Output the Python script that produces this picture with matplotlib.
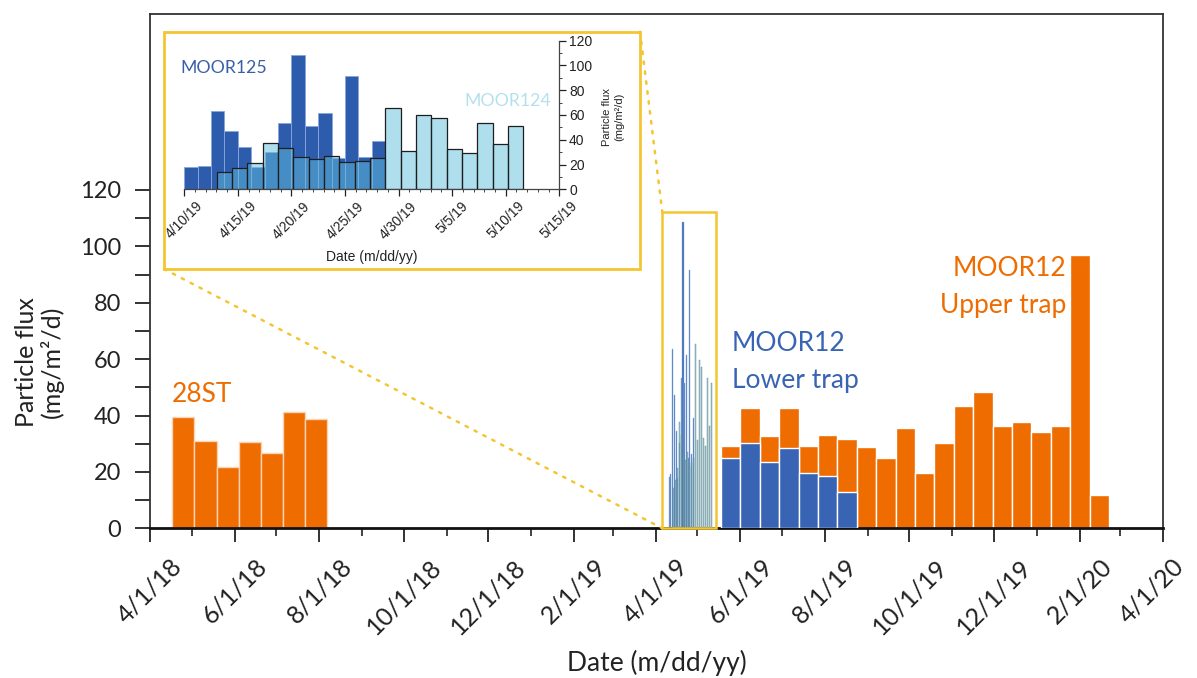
import numpy as np
import matplotlib
matplotlib.use("Agg")
import matplotlib.pyplot as plt
import matplotlib.dates as mdates
import matplotlib.transforms as mtransforms
from matplotlib.patches import Rectangle, ConnectionPatch
from matplotlib.ticker import FixedLocator, FuncFormatter

# 28ST trap, 16-day cups
st28_start = "2018-04-17"
st28_days = 16
st28_flux = [39.5, 30.8, 21.8, 30.5, 26.7, 41.3, 38.8]

# MOOR12, 14-day cups (upper and lower trap)
m12_start = "2019-05-18"
m12_days = 14
m12_upper = [29.1, 42.7, 32.7, 42.6, 29.3, 33.2, 31.7, 29.0, 24.9, 35.6,
             19.6, 30.4, 43.4, 48.5, 36.3, 37.8, 34.3, 36.2, 96.9, 11.8]
m12_lower = [24.9, 30.3, 23.5, 28.5, 19.5, 18.6, 13.0]

# high resolution traps (inset)
m125_start = "2019-04-10T00:00"
m125_days = 1.25
m125_flux = [18.3, 19.1, 63.5, 47.3, 34.4, 18.0, 30.4, 53.3, 108.7, 51.4,
             61.4, 25.0, 91.5, 26.4, 39.0]

m124_start = "2019-04-13T00:45"
m124_days = 1.43
m124_flux = [14.3, 17.0, 21.5, 37.7, 33.1, 26.4, 24.2, 27.2, 21.8, 23.2,
             25.0, 65.4, 31.2, 59.6, 57.3, 32.2, 29.1, 53.3, 36.3, 51.4]

ORANGE = "#EE6C00"
BLUE = "#3964B4"
DARK = "#2E5CAD"
LIGHT = (97 / 255, 191 / 255, 221 / 255, 0.5)
YELLOW = "#F3C631"

W, H = 1197, 678


def starts(start, days, n):
    t0 = mdates.date2num(np.datetime64(start))
    return t0 + np.arange(n) * days


def fmt_date(x, pos=None):
    d = mdates.num2date(x)
    return f"{d.month}/{d.day}/{d.strftime('%y')}"


fig = plt.figure(figsize=(W / 100, H / 100), dpi=100)
ax = fig.add_axes([150 / W, 1 - 528.3 / H, 1013 / W, 514.3 / H])

x28 = starts(st28_start, st28_days, len(st28_flux))
ax.bar(x28, st28_flux, width=st28_days, align="edge", color=ORANGE,
       edgecolor="#FBD3B4", linewidth=1.0, zorder=2)

x12 = starts(m12_start, m12_days, len(m12_upper))
ax.bar(x12, m12_upper, width=m12_days, align="edge", color=ORANGE,
       edgecolor="white", linewidth=1.0, zorder=2)
ax.bar(x12[:len(m12_lower)], m12_lower, width=m12_days, align="edge",
       color=BLUE, edgecolor="white", linewidth=1.0, zorder=3)

x125 = starts(m125_start, m125_days, len(m125_flux))
x124 = starts(m124_start, m124_days, len(m124_flux))
ax.bar(x125 + 0.2 * m125_days, m125_flux, width=0.6 * m125_days,
       align="edge", color="#3f70b8", edgecolor="#8eaedf", linewidth=0.3,
       zorder=2)
ax.bar(x124 + 0.2 * m124_days, m124_flux, width=0.6 * m124_days,
       align="edge", color=(0.45, 0.68, 0.72, 0.6), edgecolor="#5d8791",
       linewidth=0.3, zorder=3)

ax.set_xlim(mdates.date2num(np.datetime64("2018-04-01")),
            mdates.date2num(np.datetime64("2020-04-01")))
ax.set_ylim(0, 182.4)
ax.xaxis.set_major_locator(mdates.MonthLocator(bymonth=[2, 4, 6, 8, 10, 12]))
ax.xaxis.set_minor_locator(mdates.MonthLocator())
ax.xaxis.set_major_formatter(FuncFormatter(fmt_date))
ax.set_yticks(range(0, 121, 20))
ax.yaxis.set_minor_locator(FixedLocator(range(10, 120, 20)))
ax.tick_params(axis="y", which="both", direction="out", length=11, width=1.3,
               labelsize=17, colors="#222222", pad=10)
ax.tick_params(axis="x", which="major", direction="out", length=10,
               width=1.3, labelsize=18, colors="#222222", pad=9)
ax.tick_params(axis="x", which="minor", direction="out", length=6,
               width=1.2, colors="#222222")
for lab in ax.get_xticklabels():
    lab.set_rotation(45)
for lab in ax.get_xticklabels() + ax.get_yticklabels():
    lab.set_fontfamily("Lato")
for s in ax.spines.values():
    s.set_linewidth(1.3)
    s.set_color("#333333")
ax.spines["bottom"].set_linewidth(2.0)
ax.spines["bottom"].set_color("#111111")

ax.set_xlabel("Date (m/dd/yy)", fontsize=19, family="Lato", color="#222222")
ax.xaxis.set_label_coords(0.5, -(663 - 528.3) / 514.3)
ax.xaxis.label.set_va("center")
ax.set_ylabel("Particle flux\n(mg/m²/d)", fontsize=18, family="Lato",
              color="#222222", linespacing=1.1)
ax.yaxis.set_label_coords(-(150 - 39.5) / 1013, (528.3 - 362) / 514.3)
ax.yaxis.label.set_va("center")

# series labels
ax.text(mdates.date2num(np.datetime64("2018-04-17")), 44.8, "28ST",
        color=ORANGE, fontsize=19, family="Lato", va="baseline")
ax.text(mdates.date2num(np.datetime64("2019-05-26")), 62.9, "MOOR12",
        color=BLUE, fontsize=19, family="Lato", va="baseline")
ax.text(mdates.date2num(np.datetime64("2019-05-26")), 49.8, "Lower trap",
        color=BLUE, fontsize=19, family="Lato", va="baseline")
ax.text(mdates.date2num(np.datetime64("2020-01-22")), 89.5, "MOOR12",
        color=ORANGE, fontsize=19, family="Lato", va="baseline", ha="right")
ax.text(mdates.date2num(np.datetime64("2020-01-22")), 76.4, "Upper trap",
        color=ORANGE, fontsize=19, family="Lato", va="baseline", ha="right")

# zoom box on main axes
zx0 = mdates.date2num(np.datetime64("2019-04-05T17:00"))
zx1 = mdates.date2num(np.datetime64("2019-05-14T05:00"))
ztop = 112.1
ax.add_patch(Rectangle((zx0, 0), zx1 - zx0, ztop, fill=False,
                       edgecolor=YELLOW, linewidth=1.8, zorder=4,
                       clip_on=False))

# inset frame
fx0, fy0 = 164 / W, 1 - 269 / H
fx1, fy1 = 640 / W, 1 - 31.7 / H
frame = Rectangle((fx0, fy0), fx1 - fx0, fy1 - fy0, transform=fig.transFigure,
                  facecolor="white", edgecolor=YELLOW, linewidth=2.0, zorder=1)
fig.add_artist(frame)
for xa, xb in [((fx0, fy0), (zx0, 0)), ((fx1, fy1), (zx0, ztop))]:
    con = ConnectionPatch(xyA=xa, coordsA=fig.transFigure, xyB=xb,
                          coordsB=ax.transData, color=YELLOW, linewidth=1.8,
                          linestyle=(0, (1, 3)), zorder=1)
    fig.add_artist(con)

# inset axes
axi = fig.add_axes([184.3 / W, 1 - 189.3 / H, 375 / W, 148.6 / H])
axi.set_zorder(2)
axi.set_facecolor("none")
axi.bar(x125, m125_flux, width=m125_days, align="edge", color=DARK,
        edgecolor="#8aa6dc", linewidth=0.6, zorder=2)
axi.bar(x124, m124_flux, width=m124_days, align="edge", color=LIGHT,
        edgecolor="#1e1e1e", linewidth=0.9, zorder=3)
axi.set_xlim(mdates.date2num(np.datetime64("2019-04-10")),
             mdates.date2num(np.datetime64("2019-05-15")))
axi.set_ylim(0, 120)
axi.spines["top"].set_visible(False)
axi.spines["left"].set_visible(False)
for s in ["bottom", "right"]:
    axi.spines[s].set_color("#444444")
    axi.spines[s].set_linewidth(0.9)
axi.yaxis.tick_right()
axi.yaxis.set_label_position("right")
axi.set_yticks(range(0, 121, 20))
axi.yaxis.set_minor_locator(FixedLocator(range(10, 120, 20)))
axi.xaxis.set_major_locator(mdates.DayLocator(bymonthday=[5, 10, 15, 20, 25, 30]))
axi.xaxis.set_minor_locator(mdates.DayLocator())
axi.xaxis.set_major_formatter(FuncFormatter(fmt_date))
axi.tick_params(which="major", direction="out", length=5, width=0.9,
                labelsize=10, colors="#222222", pad=2)
axi.tick_params(which="minor", direction="out", length=2.5, width=0.7,
                colors="#444444")
for lab in axi.get_xticklabels():
    lab.set_rotation(45)
for lab in axi.get_xticklabels() + axi.get_yticklabels():
    lab.set_fontfamily("Liberation Sans")
axi.set_xlabel("Date (m/dd/yy)", fontsize=10, family="Liberation Sans",
               color="#222222")
axi.xaxis.set_label_coords(0.5, -(257 - 189.3) / 148.6)
axi.xaxis.label.set_va("center")
axi.set_ylabel("Particle flux\n(mg/m²/d)", fontsize=8,
               family="Liberation Sans", color="#222222")
axi.yaxis.set_label_coords((613 - 184.3) / 375, 0.487)
axi.yaxis.label.set_va("center")

fig.text(180 / W, 1 - 73.3 / H, "MOOR125", color="#3A5FA8", fontsize=12.7,
         family="Lato", va="baseline", zorder=3)
fig.text(464 / W, 1 - 105.7 / H, "MOOR124", color="#B4E0EE", fontsize=12.7,
         family="Lato", va="baseline", zorder=3)

# keep the last date label inside the picture
fig.canvas.draw()
shift = mtransforms.ScaledTranslation(-8 / 72, 0, fig.dpi_scale_trans)
for tick in ax.xaxis.get_major_ticks():
    if tick.label1.get_text() == "4/1/20":
        tick.label1.set_transform(tick.label1.get_transform() + shift)

fig.savefig("out.png", dpi=100)
